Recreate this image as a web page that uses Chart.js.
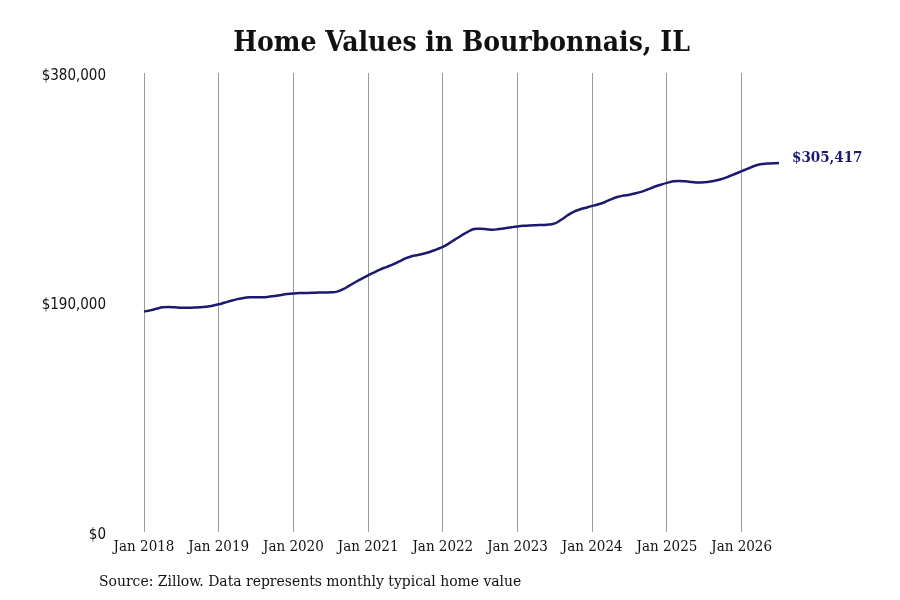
<!DOCTYPE html>
<html>
<head>
<meta charset="utf-8">
<title>Home Values in Bourbonnais, IL</title>
<script src="https://cdn.jsdelivr.net/npm/chart.js@4.4.1/dist/chart.umd.min.js"></script>
<style>
  html, body { margin: 0; padding: 0; background: #fff; }
  #wrap { width: 900px; height: 600px; }
</style>
</head>
<body>
<div id="wrap"><canvas id="homeChart" width="900" height="600"></canvas></div>
<script>
// typical home value by month
const years = [2018, 2019, 2020, 2021, 2022, 2023, 2024, 2025, 2026];
const monthNames = ['Jan', 'Feb', 'Mar', 'Apr', 'May', 'Jun', 'Jul', 'Aug', 'Sep', 'Oct', 'Nov', 'Dec'];

const values2018 = [182500, 183500, 184800, 186000, 186300, 186000, 185700, 185600, 185800, 186000, 186500, 187300];
const values2019 = [188500, 190000, 191500, 192800, 193800, 194300, 194400, 194300, 194700, 195300, 196200, 197000];
const values2020 = [197500, 197800, 197900, 198000, 198200, 198300, 198400, 199000, 201000, 204000, 207000, 209800];
const values2021 = [212500, 215000, 217500, 219500, 221500, 224000, 226500, 228300, 229300, 230500, 232000, 234000];
const values2022 = [236000, 239000, 242300, 245500, 248500, 250800, 251000, 250700, 250200, 250800, 251500, 252300];
const values2023 = [253000, 253500, 253800, 254000, 254200, 254500, 255500, 258500, 262000, 265000, 267000, 268500];
const values2024 = [270000, 271300, 273000, 275300, 277300, 278500, 279200, 280500, 281800, 283800, 285800, 287500];
const values2025 = [289000, 290300, 290600, 290300, 289800, 289400, 289600, 290200, 291200, 292600, 294500, 296600];
const values2026 = [298700, 300800, 303000, 304400, 305000, 305200, 305417];

const homeValues = [].concat(values2018, values2019, values2020, values2021, values2022,
    values2023, values2024, values2025, values2026);

const months = [];
for (const y of years) {
    for (const m of monthNames) {
        if (months.length < homeValues.length) months.push(m + ' ' + y);
    }
}

const yTicks = [0, 190000, 380000];

const navy = '#1b1a6e';
const serif = '"DejaVu Serif Condensed", "DejaVu Serif", serif';

const money = (v) => '$' + v.toLocaleString('en-US');

// title over the plot area, source line at the bottom, value tag at the last point
const annotations = {
    id: 'annotations',
    afterDraw(chart) {
        const ctx = chart.ctx;
        const area = chart.chartArea;
        ctx.save();

        ctx.fillStyle = '#111';
        ctx.font = 'bold 28px ' + serif;
        ctx.textAlign = 'center';
        ctx.textBaseline = 'middle';
        ctx.fillText('Home Values in Bourbonnais, IL', (area.left + area.right) / 2, 44);

        ctx.font = '15.5px ' + serif;
        ctx.textAlign = 'left';
        ctx.fillText('Source: Zillow. Data represents monthly typical home value', 99, 582);

        const meta = chart.getDatasetMeta(0);
        const last = meta.data[meta.data.length - 1];
        ctx.fillStyle = navy;
        ctx.font = 'bold 15px ' + serif;
        ctx.fillText(money(homeValues[homeValues.length - 1]), last.x + 13, last.y - 5);

        ctx.restore();
    }
};

const chartCtx = document.getElementById('homeChart').getContext('2d');
const homeChart = new Chart(chartCtx, {
    type: 'line',
    data: {
        labels: months,
        datasets: [{
            data: homeValues,
            borderColor: navy,
            borderWidth: 2.5,
            pointRadius: 0,
            tension: 0.4,
            fill: false
        }]
    },
    options: {
        responsive: false,
        animation: false,
        layout: {
            padding: { top: 73, left: 42, right: 121, bottom: 38 }
        },
        plugins: {
            legend: { display: false },
            title: { display: false },
            tooltip: { enabled: false }
        },
        scales: {
            x: {
                type: 'category',
                offset: false,
                border: { display: false },
                grid: {
                    drawTicks: false,
                    lineWidth: 1,
                    color: (c) => (c.index % 12 === 0 ? '#9a9a9a' : 'rgba(0,0,0,0)')
                },
                ticks: {
                    autoSkip: false,
                    maxRotation: 0,
                    padding: 6,
                    color: '#111',
                    font: { family: serif, size: 15 },
                    callback: function (val, i) {
                        return i % 12 === 0 ? months[i] : '';
                    }
                }
            },
            y: {
                min: 0,
                max: 380000,
                afterBuildTicks: (scale) => {
                    scale.ticks = yTicks.map((v) => ({ value: v }));
                },
                afterFit: (scale) => { scale.width = 102; },
                border: { display: false },
                grid: { display: false, drawTicks: false },
                ticks: {
                    padding: 38,
                    labelOffset: 3,
                    color: '#111',
                    font: { family: '"DejaVu Sans Condensed", "DejaVu Sans", sans-serif', size: 15 },
                    callback: (v) => money(v)
                }
            }
        }
    },
    plugins: [annotations]
});
</script>
</body>
</html>
